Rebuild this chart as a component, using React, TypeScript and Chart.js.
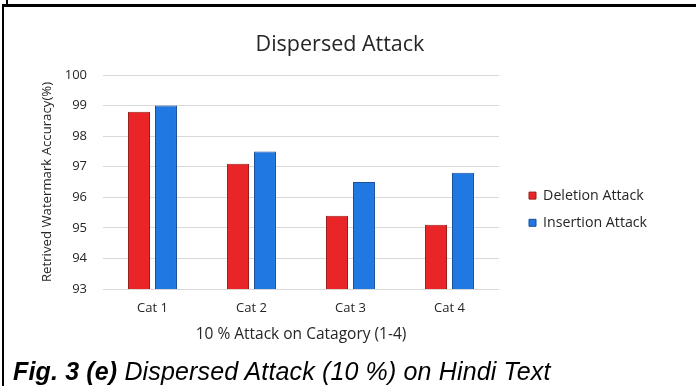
import React, { useEffect, useRef } from 'react';
import { Chart, registerables } from 'chart.js';

Chart.register(...registerables);

// Chart data
const categories = ['Cat 1', 'Cat 2', 'Cat 3', 'Cat 4'];
const seriesNames = ['Deletion Attack', 'Insertion Attack'];
const deletionAttack = [98.8, 97.1, 95.4, 95.1];
const insertionAttack = [99.0, 97.5, 96.5, 96.8];
const yMin = 93;
const yMax = 100;
const chartTitle = 'Dispersed Attack';
const xAxisTitle = '10 % Attack on Catagory (1-4)';
const yAxisTitle = 'Retrived Watermark Accuracy(%)';

const FONT = "'Open Sans', sans-serif";
const TEXT = '#262626';
const LEGEND_SIZE = 14.2;
const LEGEND_PAD = 13;
const BOX = 7;
const Y_TITLE_SIZE = 13.2;

// Page-space layout targets
const PLOT_LEFT = 103;
const PLOT_RIGHT = 499;
const LEGEND_BOX_X = 529;
const TITLE_CX = 340;
const Y_TITLE_CX = 47;

export default function App() {
  const canvasRef = useRef<HTMLCanvasElement | null>(null);

  useEffect(() => {
    if (!canvasRef.current) return;
    const ctx = canvasRef.current.getContext('2d')!;
    ctx.font = `${LEGEND_SIZE}px ${FONT}`;
    const textW = Math.max(...seriesNames.map((n) => ctx.measureText(n).width));
    const legendW = LEGEND_PAD + BOX + LEGEND_SIZE / 2 + textW + 10;
    const legendLeft = LEGEND_BOX_X - LEGEND_PAD;
    const padRight = 696 - legendLeft - legendW;
    const padLeft = 2 * TITLE_CX - 696 + padRight;
    const yTitleLh = Y_TITLE_SIZE * 1.2;

    const chart = new Chart(canvasRef.current, {
      type: 'bar',
      data: {
        labels: categories,
        datasets: [
          {
            label: seriesNames[0],
            data: deletionAttack,
            backgroundColor: '#EA2527',
            borderColor: '#9A1C1A',
            borderWidth: 1,
            categoryPercentage: 0.545,
            barPercentage: 0.815,
          },
          {
            label: seriesNames[1],
            data: insertionAttack,
            backgroundColor: '#2079E3',
            borderColor: '#1B4F98',
            borderWidth: 1,
            categoryPercentage: 0.545,
            barPercentage: 0.815,
          },
        ],
      },
      options: {
        responsive: true,
        maintainAspectRatio: false,
        animation: false,
        layout: { padding: { left: padLeft, right: padRight, top: 0, bottom: 0 } },
        plugins: {
          title: {
            display: true,
            text: chartTitle,
            color: TEXT,
            font: { family: FONT, size: 21.5, weight: 'normal', lineHeight: 1.2 },
            padding: { top: 32.4, bottom: 16.8 },
          },
          legend: {
            position: 'right',
            align: 'start',
            maxWidth: 260,
            title: {
              display: true,
              text: '',
              font: { family: FONT, size: 10, lineHeight: 1 },
              padding: { top: 165.5, bottom: 0 },
            },
            labels: {
              boxWidth: BOX,
              boxHeight: BOX,
              padding: LEGEND_PAD,
              color: TEXT,
              font: { family: FONT, size: LEGEND_SIZE, lineHeight: 1.2 },
            },
          },
          tooltip: { enabled: false },
        },
        scales: {
          x: {
            grid: { display: false },
            border: { display: false },
            ticks: { color: TEXT, padding: 3.2, font: { family: FONT, size: 13, lineHeight: 1.2 } },
            title: {
              display: true,
              text: xAxisTitle,
              color: TEXT,
              font: { family: FONT, size: 15.5, lineHeight: 1.2 },
              padding: { top: 0, bottom: 1.5 },
            },
            afterFit: (s: any) => {
              s.height = 56;
            },
          },
          y: {
            min: yMin,
            max: yMax,
            grid: { color: '#D9D9D9', lineWidth: 1, drawTicks: false },
            border: { display: false },
            ticks: {
              stepSize: 1,
              padding: 16,
              color: TEXT,
              font: { family: FONT, size: 13, lineHeight: 1.2 },
            },
            title: {
              display: true,
              text: yAxisTitle,
              color: TEXT,
              font: { family: FONT, size: Y_TITLE_SIZE, lineHeight: 1.2 },
              padding: { top: Y_TITLE_CX - padLeft - yTitleLh / 2, bottom: 0 },
            },
            afterFit: (s: any) => {
              s.width = PLOT_LEFT - padLeft;
            },
          },
          gap: {
            type: 'linear',
            position: 'right',
            display: true,
            grid: { display: false },
            border: { display: false },
            ticks: { display: false },
            afterFit: (s: any) => {
              s.width = legendLeft - PLOT_RIGHT;
            },
          },
        },
      } as any,
    });
    return () => chart.destroy();
  }, []);

  return (
    <div
      style={{
        position: 'fixed',
        left: 0,
        top: 0,
        width: 696,
        height: 386,
        background: '#fff',
        overflow: 'hidden',
      }}
    >
      <div style={{ position: 'absolute', left: 0, top: 0, width: 696, height: 345 }}>
        <canvas ref={canvasRef} />
      </div>
      {/* frame */}
      <div
        style={{
          position: 'absolute',
          left: 2,
          top: 4,
          width: 700,
          height: 400,
          borderLeft: '2px solid #000',
          borderTop: '3px solid #000',
          boxSizing: 'border-box',
        }}
      />
      <div style={{ position: 'absolute', left: 6, top: 0, width: 1.5, height: 5, background: '#000' }} />
      <div
        style={{
          position: 'absolute',
          left: 13,
          top: 358.8,
          fontFamily: "'Liberation Sans', Arial, sans-serif",
          fontSize: 25,
          lineHeight: '25px',
          letterSpacing: '0.15px',
          fontStyle: 'italic',
          color: '#000',
          whiteSpace: 'nowrap',
        }}
      >
        <b>Fig. 3 (e)</b> Dispersed Attack (10 %) on Hindi Text
      </div>
    </div>
  );
}
